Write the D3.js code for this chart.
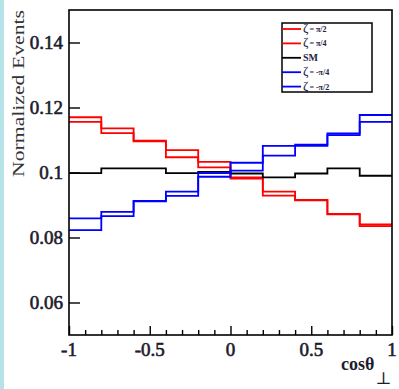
<!DOCTYPE html>
<html>
<head>
<meta charset="utf-8">
<script src="https://cdn.jsdelivr.net/npm/d3@7"></script>
<style>
  html, body { margin: 0; padding: 0; background: #fff; }
  svg { display: block; }
</style>
</head>
<body>
<div id="chart"></div>
<script>
// bin edges of cos(theta_perp), 10 bins
const binEdges = [-1, -0.8, -0.6, -0.4, -0.2, 0, 0.2, 0.4, 0.6, 0.8, 1];

const zetaPi2 = [0.1170, 0.1136, 0.1098, 0.1069, 0.1033, 0.0981, 0.0929, 0.0914, 0.0871, 0.0835];
const zetaPi4 = [0.1156, 0.1121, 0.1096, 0.1047, 0.1016, 0.0985, 0.0941, 0.0916, 0.0873, 0.0840];
const smValues = [0.0998, 0.1013, 0.1013, 0.0998, 0.1002, 0.0997, 0.0985, 0.0997, 0.1013, 0.0990];
const zetaMPi4 = [0.0859, 0.0879, 0.0913, 0.0941, 0.0998, 0.1006, 0.1052, 0.1082, 0.1115, 0.1156];
const zetaMPi2 = [0.0823, 0.0866, 0.0911, 0.0928, 0.0987, 0.1030, 0.1082, 0.1086, 0.1120, 0.1177];

const yTicks = [0.06, 0.08, 0.1, 0.12, 0.14];
const yTickLabels = ['0.06', '0.08', '0.1', '0.12', '0.14'];
const xTicks = [-1, -0.5, 0, 0.5, 1];
const xTickLabels = ['-1', '-0.5', '0', '0.5', '1'];

const series = [
  { label: '= \u03c0/2', values: zetaPi2, color: '#ff0000' },
  { label: '= \u03c0/4', values: zetaPi4, color: '#ff0000' },
  { label: 'SM', values: smValues, color: '#000000' },
  { label: '= -\u03c0/4', values: zetaMPi4, color: '#0000ff' },
  { label: '= -\u03c0/2', values: zetaMPi2, color: '#0000ff' }
];

const width = 399, height = 389;
const frame = { left: 69, right: 392, top: 10, bottom: 335 };
const textColor = '#1c1c2c';
const serif = '"Liberation Serif", "DejaVu Serif", serif';

const svg = d3.select('#chart')
  .append('svg')
  .attr('width', width)
  .attr('height', height);

svg.append('rect')
  .attr('x', 0).attr('y', 0)
  .attr('width', width).attr('height', height)
  .attr('fill', '#fff');

// light strip on the left edge of the picture
svg.append('rect')
  .attr('x', 0).attr('y', 0)
  .attr('width', 4).attr('height', height)
  .attr('fill', '#b6e3e8');

const x = d3.scaleLinear().domain([-1, 1]).range([frame.left, frame.right]);
const y = d3.scaleLinear().domain([0.05, 0.15]).range([frame.bottom, frame.top]);

// histograms as step lines
const step = d3.line()
  .x(d => x(d[0]))
  .y(d => y(d[1]))
  .curve(d3.curveStepAfter);

series.forEach(s => {
  const pts = s.values.map((v, i) => [binEdges[i], v]);
  pts.push([binEdges[binEdges.length - 1], s.values[s.values.length - 1]]);
  svg.append('path')
    .attr('d', step(pts))
    .attr('fill', 'none')
    .attr('stroke', s.color)
    .attr('stroke-width', 1.8);
});

// frame
svg.append('rect')
  .attr('x', frame.left).attr('y', frame.top)
  .attr('width', frame.right - frame.left)
  .attr('height', frame.bottom - frame.top)
  .attr('fill', 'none')
  .attr('stroke', '#000')
  .attr('stroke-width', 1.6);

// x axis: ticks inside, labels below
const xAxis = d3.axisBottom(x)
  .tickValues(d3.range(-10, 11).map(i => i / 10))
  .tickSize(0)
  .tickFormat('');
const gx = svg.append('g')
  .attr('transform', `translate(0,${frame.bottom})`)
  .call(xAxis);
gx.select('.domain').remove();
gx.selectAll('.tick line')
  .attr('y2', d => (Math.abs(d * 2 - Math.round(d * 2)) < 1e-6) ? -9 : -5)
  .attr('stroke', '#000')
  .attr('stroke-width', 1.4);

xTicks.forEach((t, i) => {
  svg.append('text')
    .text(xTickLabels[i])
    .attr('x', x(t))
    .attr('y', 356)
    .attr('text-anchor', 'middle')
    .style('font-family', serif)
    .style('font-size', '19px')
    .style('fill', textColor)
    .style('stroke', textColor)
    .style('stroke-width', 0.6);
});

// y axis: ticks inside, labels on the left
const yAxis = d3.axisLeft(y)
  .tickValues(yTicks)
  .tickSize(0)
  .tickFormat('');
const gy = svg.append('g')
  .attr('transform', `translate(${frame.left},0)`)
  .call(yAxis);
gy.select('.domain').remove();
gy.selectAll('.tick line')
  .attr('x2', 11)
  .attr('stroke', '#000')
  .attr('stroke-width', 1.4);

yTicks.forEach((t, i) => {
  svg.append('text')
    .text(yTickLabels[i])
    .attr('x', 63)
    .attr('y', y(t) + 6.5)
    .attr('text-anchor', 'end')
    .style('font-family', serif)
    .style('font-size', '19px')
    .style('fill', textColor)
    .style('stroke', textColor)
    .style('stroke-width', 0.6);
});

// axis titles
svg.append('text')
  .text('Normalized Events')
  .attr('transform', 'translate(24,10) rotate(-90)')
  .attr('text-anchor', 'end')
  .attr('textLength', 167)
  .attr('lengthAdjust', 'spacingAndGlyphs')
  .style('font-family', serif)
  .style('font-size', '17px')
  .style('fill', '#333');

const xt = svg.append('text')
  .attr('x', 341)
  .attr('y', 370)
  .style('font-family', serif)
  .style('font-size', '18px')
  .style('font-weight', 'bold')
  .style('fill', textColor);
xt.append('tspan').text('cos\u03b8');
xt.append('tspan').text('\u22a5').attr('dx', 1).attr('dy', 14)
  .style('font-size', '17px').style('font-weight', 'normal');

// legend
const legend = { x0: 282, y0: 23, x1: 372, y1: 92 };
svg.append('rect')
  .attr('x', legend.x0).attr('y', legend.y0)
  .attr('width', legend.x1 - legend.x0)
  .attr('height', legend.y1 - legend.y0)
  .attr('fill', '#fff')
  .attr('stroke', '#000')
  .attr('stroke-width', 1.5);

series.forEach((s, i) => {
  const ly = 29 + i * 14.4;
  svg.append('line')
    .attr('x1', legend.x0).attr('x2', legend.x0 + 19)
    .attr('y1', ly).attr('y2', ly)
    .attr('stroke', s.color)
    .attr('stroke-width', 1.8);
  const t = svg.append('text')
    .attr('x', legend.x0 + 21)
    .attr('y', ly + 3)
    .style('font-family', serif)
    .style('fill', '#222244');
  if (s.label === 'SM') {
    t.append('tspan').text('SM').style('font-size', '10px').style('font-weight', 'bold');
  } else {
    t.append('tspan').text('\u03b6').style('font-size', '13px');
    t.append('tspan').text(s.label).attr('dx', 1).style('font-size', '8px').style('font-weight', 'bold');
  }
});
</script>
</body>
</html>
